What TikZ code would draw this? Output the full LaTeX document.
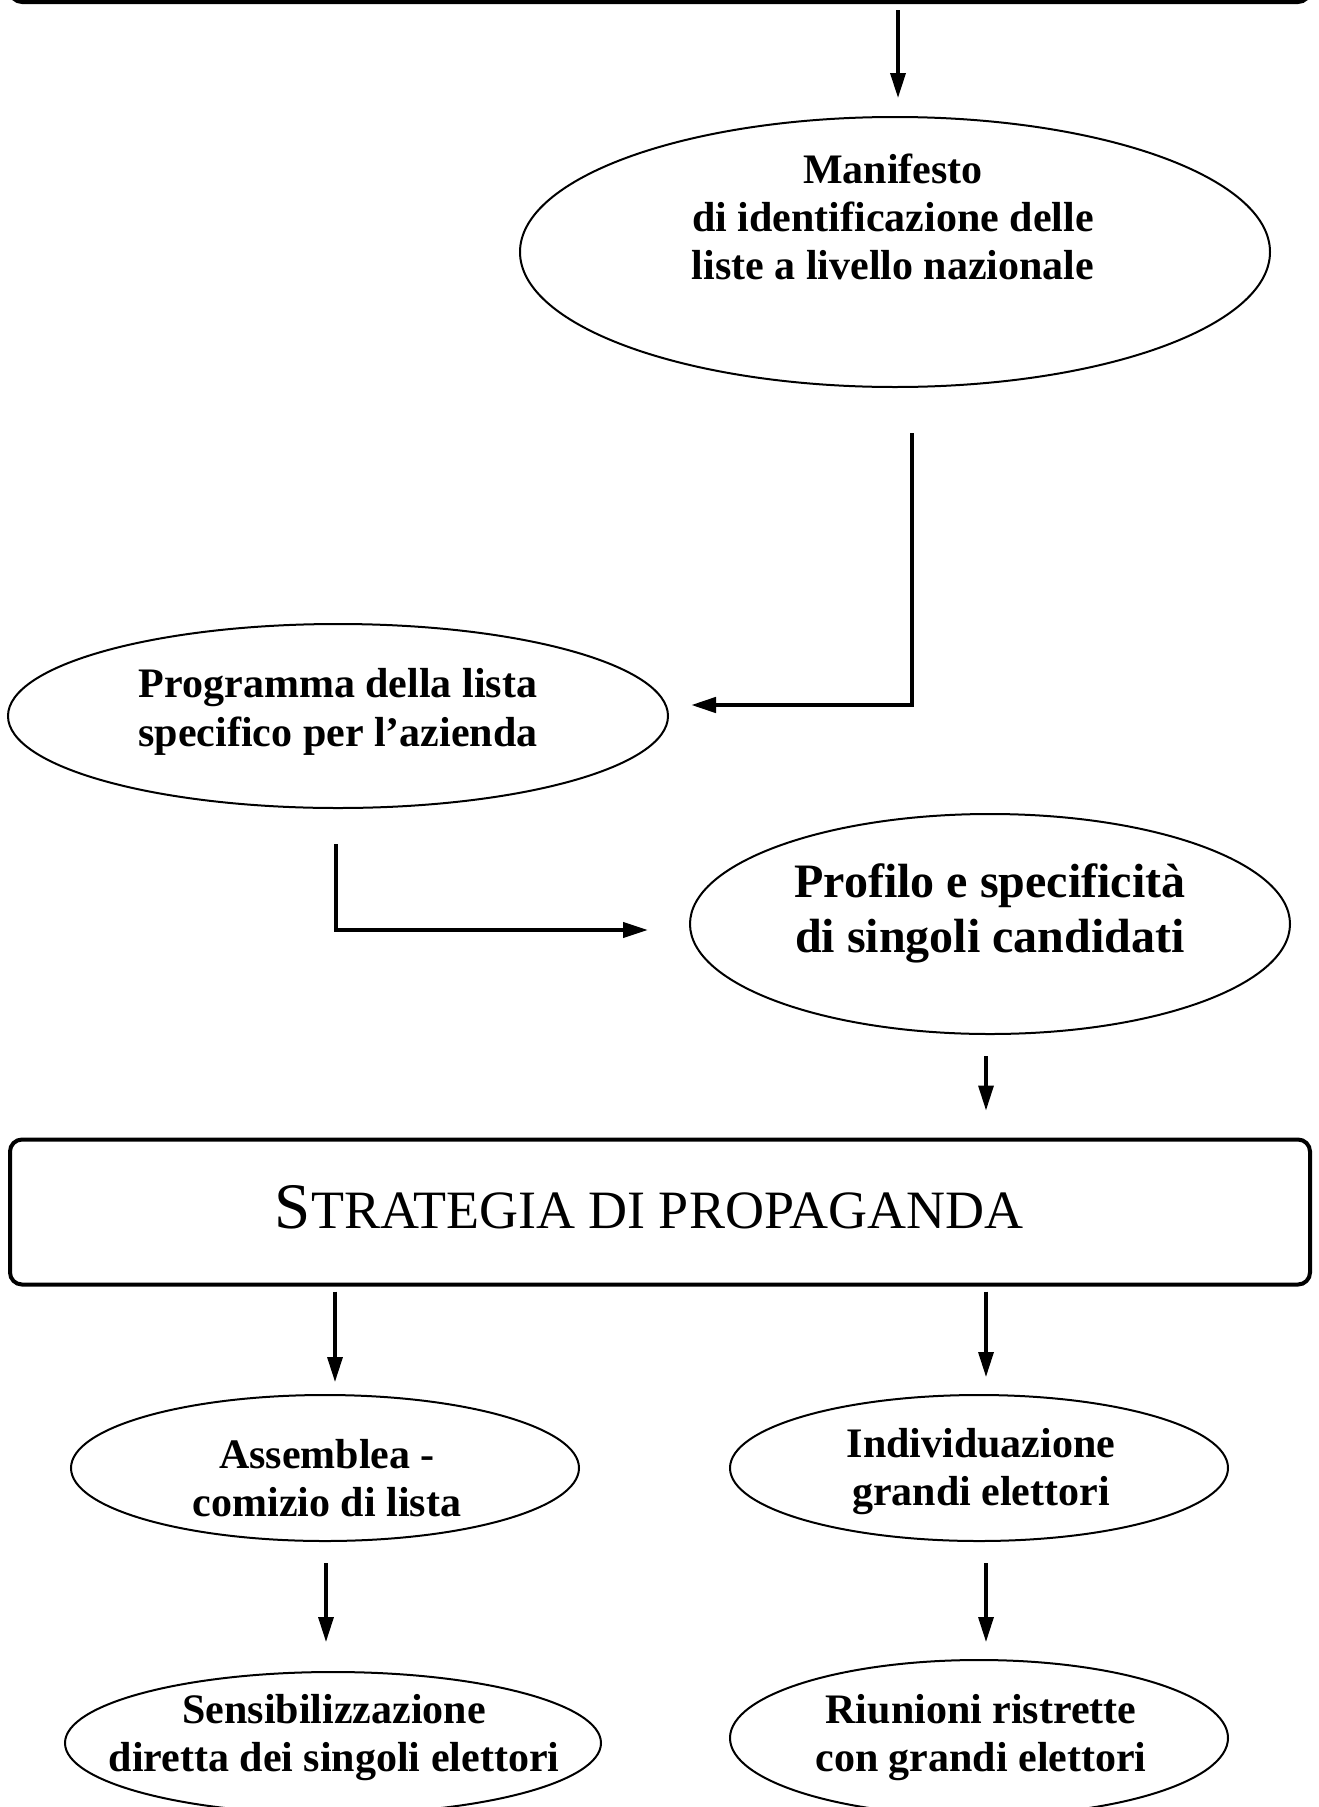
\documentclass[tikz,border=0pt]{standalone}
\usepackage{fontspec}
\setmainfont{Liberation Serif}
\usetikzlibrary{shapes.geometric,arrows.meta}
\begin{document}
\begin{tikzpicture}[x=1pt,y=-1pt,
  oval/.style={draw,ellipse,line width=2pt,inner sep=0pt},
  txt/.style={align=center,inner sep=0pt,font=\bfseries\fontsize{42}{48}\selectfont},
  bigtxt/.style={align=center,inner sep=0pt,font=\bfseries\fontsize{48}{55}\selectfont},
  boxstyle/.style={draw,rectangle,rounded corners=12pt,line width=4pt,inner sep=0pt},
  arrthick/.style={line width=4pt,-{Triangle[length=25pt,width=15pt]}},
  arrthin/.style={line width=3.3pt,-{Triangle[length=25pt,width=15pt]}}
]
\useasboundingbox (0,0) rectangle (1319,1807);

% top box (cut by the page)
\node[boxstyle,minimum width=1300pt,minimum height=102pt] (topbox) at (660,-49) {};

% ellipses
\node[oval,minimum width=750pt,minimum height=270pt] (manifesto) at (895,252) {};
\node[txt] (manT) at (893,217) {Manifesto\\di identificazione delle\\liste a livello nazionale};

\node[oval,minimum width=660pt,minimum height=184pt] (programma) at (338,716) {};
\node[txt,font=\bfseries\fontsize{42}{49}\selectfont] (progT) at (338,712) {Programma della lista\\specifico per l’azienda};

\node[oval,minimum width=600pt,minimum height=220pt] (profilo) at (990,924) {};
\node[bigtxt] (profT) at (990,913) {Profilo e specificità\\di singoli candidati};

\node[boxstyle,minimum width=1300pt,minimum height=145pt] (strat) at (660,1212) {};
\node[inner sep=0pt] (stratT) at (649,1207) {{\fontsize{65}{72}\selectfont S}{\fontsize{54}{62}\selectfont TRATEGIA DI PROPAGANDA}};

\node[oval,minimum width=508pt,minimum height=146pt] (assemblea) at (325,1468) {};
\node[txt] (assT) at (327,1478) {Assemblea -\\comizio di lista};

\node[oval,minimum width=498pt,minimum height=146pt] (individ) at (979,1468) {};
\node[txt] (indT) at (981,1472) {Individuazione\\grandi elettori};

\node[oval,minimum width=536pt,minimum height=142pt] (sensib) at (333,1743) {};
\node[txt] (sensT) at (334,1738) {Sensibilizzazione\\diretta dei singoli elettori};

\node[oval,minimum width=498pt,minimum height=156pt] (riunioni) at (979,1738) {};
\node[txt] (riunT) at (981,1738) {Riunioni ristrette\\con grandi elettori};

% connectors
\draw[arrthick,line width=3.5pt,shorten <=6pt,shorten >=18pt]
  ([xshift=3pt]topbox.south -| manifesto.north) -- ([xshift=3pt]manifesto.north);
\draw[arrthick,line width=4.5pt,shorten <=45pt,shorten >=22pt]
  ([xshift=17pt]manifesto.south) |- ([yshift=11pt]programma.east);
\draw[arrthick,shorten <=35pt,shorten >=41pt]
  ([xshift=-2pt]programma.south) |- ([yshift=-6pt]profilo.west);
\draw[arrthin,shorten <=21pt,shorten >=27pt]
  ([xshift=-4pt]profilo.south) -- ([xshift=-4pt]profilo.south |- strat.north);
\draw[arrthin,shorten <=5pt,shorten >=12pt]
  ([xshift=10pt]assemblea.north |- strat.south) -- ([xshift=10pt]assemblea.north);
\draw[arrthin,shorten <=5pt,shorten >=17pt]
  ([xshift=7pt]individ.north |- strat.south) -- ([xshift=7pt]individ.north);
\draw[arrthin,shorten <=21pt,shorten >=29pt]
  ([xshift=1pt]assemblea.south) -- ([xshift=1pt]assemblea.south |- sensib.north);
\draw[arrthin,shorten <=21pt,shorten >=17pt]
  ([xshift=7pt]individ.south) -- ([xshift=7pt]individ.south |- riunioni.north);
\end{tikzpicture}
\end{document}
